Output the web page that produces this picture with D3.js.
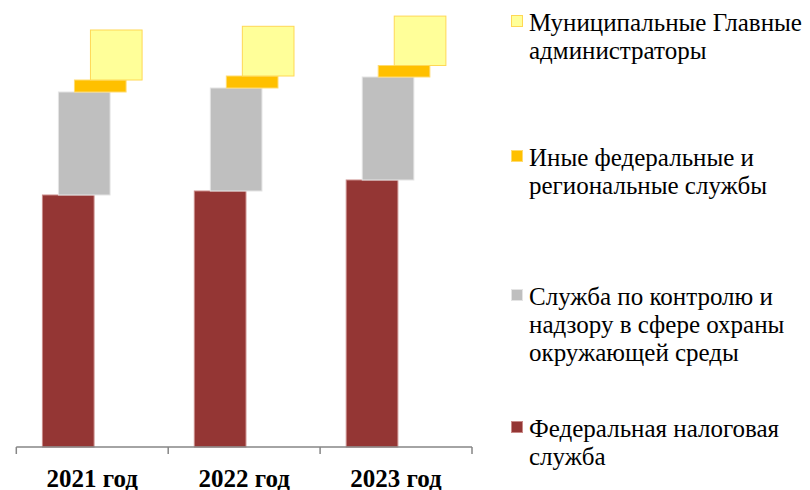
<!DOCTYPE html>
<html>
<head>
<meta charset="utf-8">
<script src="https://cdn.jsdelivr.net/npm/d3@7"></script>
<style>
  html, body { margin: 0; padding: 0; background: #fff; }
  svg { display: block; }
</style>
</head>
<body>
<svg id="chart" width="810" height="490"></svg>
<script>
// Years on the category axis
const years = ["2021 год", "2022 год", "2023 год"];

// Series, bottom of the stack first
const seriesKeys = ["fns", "eco", "other", "muni"];
const seriesLabels = [
  "Федеральная налоговая служба",
  "Служба по контролю и надзору в сфере охраны окружающей среды",
  "Иные федеральные и региональные службы",
  "Муниципальные Главные администраторы"
];
const legendLines = [
  ["Федеральная налоговая", "служба"],
  ["Служба по контролю и", "надзору в сфере охраны", "окружающей среды"],
  ["Иные федеральные и", "региональные службы"],
  ["Муниципальные Главные", "администраторы"]
];
const fnsValues   = [25.2, 25.6, 26.7];
const ecoValues   = [10.3, 10.3, 10.3];
const otherValues = [1.2, 1.2, 1.15];
const muniValues  = [5.0, 4.97, 4.94];

const fills   = ["#943634", "#BFBFBF", "#FFC000", "#FFFF99"];
const strokes = ["#C98A88", "#E4E4E4", "#FFDB70", "#FFD855"];

const FONT = "Liberation Serif";

const rows = years.map((y, i) => ({
  year: y,
  fns: fnsValues[i],
  eco: ecoValues[i],
  other: otherValues[i],
  muni: muniValues[i]
}));

const svg = d3.select("#chart");

const x = d3.scaleBand().domain(years).range([16.3, 472]).padding(0);
const y = d3.scaleLinear().domain([0, 43]).range([447, 17]);

const barW = x.bandwidth() * 0.34;
const shift = barW * 0.31;
const offset = d3.scalePoint().domain(seriesKeys).range([0, shift * 3]);
const groupPad = (x.bandwidth() - (barW + shift * 3)) / 2;

const stacked = d3.stack().keys(seriesKeys)(rows);

// Stacked segments, each series stepped to the right
const layers = svg.append("g").selectAll("g")
  .data(stacked)
  .join("g")
  .attr("fill", (d, i) => fills[i])
  .attr("stroke", (d, i) => strokes[i])
  .attr("stroke-width", 1);

layers.selectAll("rect")
  .data(d => d.map(p => ({ key: d.key, p })))
  .join("rect")
  .attr("x", d => x(d.p.data.year) + groupPad + offset(d.key))
  .attr("y", d => y(d.p[1]))
  .attr("width", barW)
  .attr("height", d => y(d.p[0]) - y(d.p[1]));

// Category axis
const axis = svg.append("g")
  .attr("transform", `translate(0,${y(0)})`);
axis.append("line")
  .attr("x1", x.range()[0]).attr("x2", x.range()[1])
  .attr("y1", 0).attr("y2", 0)
  .attr("stroke", "#868686").attr("stroke-width", 1.5);
const tickPos = years.map(d => x(d)).concat([x.range()[1]]);
axis.selectAll("line.tick")
  .data(tickPos)
  .join("line")
  .attr("class", "tick")
  .attr("x1", d => d).attr("x2", d => d)
  .attr("y1", 0).attr("y2", 7)
  .attr("stroke", "#868686").attr("stroke-width", 1.5);
axis.selectAll("text")
  .data(years)
  .join("text")
  .attr("x", d => x(d) + x.bandwidth() / 2)
  .attr("y", 39.5)
  .attr("text-anchor", "middle")
  .attr("font-family", FONT)
  .attr("font-size", 25)
  .attr("font-weight", "bold")
  .attr("fill", "#000")
  .text(d => d);

// Legend, top entry is the top of the stack
const legendOrder = [3, 2, 1, 0];
const legendBaselines = [31, 166, 305, 437];
const legend = svg.append("g");
legendOrder.forEach((si, row) => {
  const g = legend.append("g").attr("transform", `translate(511,${legendBaselines[row]})`);
  g.append("rect")
    .attr("x", 0.5).attr("y", -15.5)
    .attr("width", 11).attr("height", 11)
    .attr("fill", fills[si])
    .attr("stroke", strokes[si]);
  const t = g.append("text")
    .attr("x", 18)
    .attr("y", 0)
    .attr("font-family", FONT)
    .attr("font-size", 25)
    .attr("fill", "#000");
  t.selectAll("tspan")
    .data(legendLines[si])
    .join("tspan")
    .attr("x", 18)
    .attr("dy", (d, i) => i === 0 ? 0 : 28)
    .text(d => d);
});
</script>
</body>
</html>
